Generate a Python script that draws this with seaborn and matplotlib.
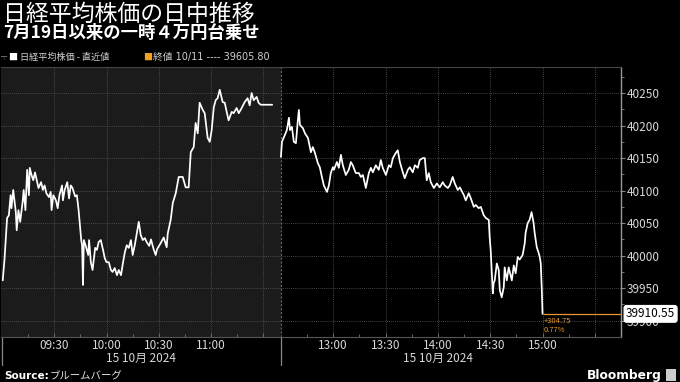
import numpy as np
import pandas as pd
import matplotlib
matplotlib.use("Agg")
import matplotlib.pyplot as plt
import seaborn as sns

# ---------------- data ----------------
# morning session: minutes since 09:00
am_minutes = [0.5, 1.5, 3.0, 4.0, 5.0, 5.5, 6.5, 8.0, 8.5, 9.5, 10.5, 12.0, 12.5, 13.5, 14.5, 15.5,
              16.0, 17.0, 18.0, 19.0, 20.0, 21.0, 22.5, 23.5, 24.5, 25.5, 27.0, 28.0, 28.5, 29.5,
              31.0, 32.0, 33.0, 34.5, 35.0, 36.0, 37.5, 38.5, 39.5, 40.5, 42.0, 43.0, 44.0, 45.5,
              46.0, 46.5, 47.0, 48.0, 49.5, 50.0, 51.0, 52.0, 53.5, 54.5, 55.5, 56.7, 58.0, 59.0,
              60.0, 61.3, 62.5, 63.5, 64.7, 66.0, 67.0, 68.3, 69.5, 70.5, 71.6, 72.8, 74.0, 75.0,
              76.2, 77.5, 78.5, 79.6, 80.8, 82.0, 83.0, 84.5, 85.5, 87.0, 88.2, 89.0, 91.0, 92.8,
              94.5, 95.1, 96.8, 98.0, 99.7, 101.4, 103.7, 105.4, 107.1, 108.3, 110.0, 111.1, 112.3,
              113.4, 115.2, 116.3, 118.0, 119.2, 120.3, 121.5, 122.6, 123.7, 124.9, 126.6, 127.8,
              128.9, 130.0, 131.8, 132.9, 134.6, 135.8, 137.5, 139.2, 140.9, 142.1, 143.2, 144.4,
              146.1, 147.2, 148.4, 150.0, 152.0, 155.0]
am_values = [39962, 39994, 40058, 40062, 40093, 40073, 40101, 40067, 40039, 40070, 40052, 40085,
             40101, 40070, 40132, 40093, 40135, 40124, 40116, 40128, 40116, 40104, 40113, 40101,
             40108, 40096, 40090, 40098, 40070, 40093, 40085, 40073, 40093, 40108, 40085, 40101,
             40113, 40088, 40108, 40104, 40091, 40093, 40070, 40024, 40016, 39955, 40024, 40016,
             40001, 40024, 39990, 39978, 40012, 40009, 40021, 40024, 40009, 39996, 39990, 39990,
             39978, 39975, 39981, 39970, 39978, 39970, 39990, 40005, 40016, 40012, 40024, 40001,
             40016, 40036, 40052, 40032, 40024, 40027, 40021, 40015, 40025, 40010, 40001, 40010,
             40019, 40028, 40013, 40034, 40055, 40081, 40096, 40121, 40121, 40105, 40105, 40159,
             40167, 40204, 40188, 40235, 40224, 40219, 40181, 40175, 40193, 40228, 40239, 40242,
             40255, 40236, 40235, 40221, 40208, 40221, 40219, 40227, 40219, 40227, 40236, 40242,
             40231, 40250, 40239, 40244, 40235, 40232, 40232, 40232, 40232]

# afternoon session: minutes since 12:30
pm_minutes = [0.0, 0.6, 1.7, 3.4, 4.6, 5.2, 6.3, 7.4, 8.6, 9.7, 10.3, 10.9, 12.6, 13.8, 15.5, 17.2,
              18.3, 19.5, 21.2, 22.3, 23.5, 24.6, 26.4, 27.5, 28.6, 29.8, 30.4, 32.1, 33.2, 34.4,
              35.5, 37.2, 38.9, 40.1, 41.2, 42.9, 44.7, 45.8, 47.0, 48.7, 50.4, 51.6, 52.7, 54.4,
              56.1, 57.3, 58.4, 60.2, 61.9, 63.0, 64.2, 65.9, 67.0, 68.2, 69.9, 71.0, 72.8, 73.9,
              75.6, 76.8, 78.5, 79.6, 81.4, 82.5, 83.6, 84.8, 85.9, 87.7, 89.4, 91.1, 92.8, 93.9,
              95.7, 96.8, 98.5, 99.7, 101.4, 102.6, 104.9, 106.0, 107.7, 108.9, 110.6, 111.7, 113.4,
              114.6, 116.3, 117.5, 119.2, 119.7, 120.3, 121.5, 122.0, 122.6, 123.8, 124.9, 125.5,
              126.6, 127.8, 128.3, 129.5, 130.6, 132.4, 133.5, 134.6, 135.8, 136.9, 138.6, 139.8,
              140.3, 141.5, 142.6, 143.7, 144.9, 145.5, 146.7, 147.8, 148.4, 149.0, 149.6, 150.0]
pm_values = [40152, 40175, 40182, 40193, 40212, 40193, 40198, 40175, 40173, 40208, 40224, 40201,
             40196, 40188, 40181, 40159, 40167, 40158, 40142, 40136, 40121, 40108, 40098, 40108,
             40127, 40136, 40132, 40144, 40135, 40155, 40139, 40124, 40132, 40144, 40139, 40127,
             40127, 40121, 40124, 40104, 40127, 40135, 40128, 40139, 40132, 40147, 40135, 40124,
             40139, 40136, 40150, 40158, 40162, 40144, 40128, 40119, 40132, 40136, 40128, 40139,
             40135, 40147, 40150, 40150, 40116, 40127, 40113, 40104, 40111, 40105, 40113, 40108,
             40104, 40108, 40121, 40111, 40101, 40105, 40093, 40085, 40096, 40088, 40075, 40078,
             40073, 40075, 40062, 40058, 40055, 40028, 40008, 39942, 39958, 39962, 39988, 39978,
             39947, 39936, 39952, 39982, 39962, 39982, 39962, 39985, 39973, 39998, 39994, 40001,
             40019, 40035, 40050, 40055, 40067, 40050, 40035, 40013, 40004, 39998, 39988, 39947,
             39910.55]

prev_close = 39605.80
last_value = 39910.55
change = 304.75
change_pct = 0.77

am_tick_labels = ["09:30", "10:00", "10:30", "11:00", ""]
am_tick_minutes = [30, 60, 90, 120, 150]
pm_tick_labels = ["13:00", "13:30", "14:00", "14:30", "15:00", ""]
pm_tick_minutes = [30, 60, 90, 120, 150, 180]
y_ticks = [39900, 39950, 40000, 40050, 40100, 40150, 40200, 40250]
date_label = "15 10月 2024"

title = "日経平均株価の日中推移"
subtitle = "7月19日以来の一時４万円台乗せ"
legend_1 = "日経平均株価 - 直近値"
legend_2 = "終値 10/11 ---- 39605.80"

# ---------------- layout ----------------
PM_OFFSET = 160  # compressed position of 12:30 on the axis
W, H = 680, 382

sns.set_theme(style="dark")
plt.rcParams['font.family'] = ['Noto Sans CJK JP', 'DejaVu Sans']

fig = plt.figure(figsize=(W / 100, H / 100), dpi=100, facecolor="black")
ax = fig.add_axes([1 / W, 1 - 337 / H, 620 / W, 270 / H])
ax.set_facecolor("black")

df = pd.concat([
    pd.DataFrame({"pos": am_minutes, "value": am_values, "session": "am"}),
    pd.DataFrame({"pos": np.array(pm_minutes) + PM_OFFSET, "value": pm_values, "session": "pm"}),
])

# morning shading
ax.axvspan(-0.5, PM_OFFSET, color="#1b1b1b", zorder=0, lw=0)

sns.lineplot(data=df, x="pos", y="value", units="session", estimator=None,
             color="white", lw=1.25, ax=ax, zorder=3)

xmin, xmax = -0.5, 355
ax.set_xlim(xmin, xmax)
ax.set_ylim(39875, 40290)

# grid
major_pos = am_tick_minutes + [m + PM_OFFSET for m in pm_tick_minutes]
ax.set_xticks(major_pos)
ax.set_xticklabels(am_tick_labels + pm_tick_labels)
minor_pos = [m - 15 for m in am_tick_minutes] + [m - 15 + PM_OFFSET for m in pm_tick_minutes]
ax.set_xticks(minor_pos, minor=True)
for p in major_pos:
    ax.axvline(p, color="#5a5a5a", lw=0.6, ls=(0, (1, 1.5)), zorder=1)
for v in y_ticks:
    ax.axhline(v, color="#5a5a5a", lw=0.6, ls=(0, (1, 1.5)), zorder=1)

# session divider
ax.axvline(PM_OFFSET, color="#666666", lw=0.8, ls=(0, (2, 1.5)), zorder=2)
for p in [xmin + 0.4, PM_OFFSET]:
    ax.plot([p, p], [0, -0.105], transform=ax.get_xaxis_transform(), color="#888888",
            lw=0.9, clip_on=False)

# y axis on the right
ax.yaxis.tick_right()
ax.set_yticks(y_ticks)
ax.set_yticklabels([str(v) for v in y_ticks])
ax.set_yticks([v + 25 for v in y_ticks[:-1]] + [40275], minor=True)
ax.tick_params(axis="y", which="major", colors="#888888", labelcolor="#d8d8d8",
               labelsize=8.5, length=3, width=0.8, pad=1, direction="out", right=True, left=False)
ax.tick_params(axis="y", which="minor", colors="#888888", length=2, width=0.6, right=True, left=False)
ax.tick_params(axis="x", which="major", colors="#777777", labelcolor="#d8d8d8",
               labelsize=8.5, length=3, width=0.7, pad=1.5, direction="in", bottom=True)
ax.tick_params(axis="x", which="minor", colors="#777777", length=2, width=0.6, direction="in",
               bottom=True)
ax.set_xlabel("")
ax.set_ylabel("")

ax.spines["left"].set_visible(False)
ax.spines["right"].set_color("#999999")
ax.spines["right"].set_linewidth(1.0)
ax.spines["bottom"].set_color("#555555")
ax.spines["bottom"].set_linewidth(0.8)
ax.spines["top"].set_color("#444444")
ax.spines["top"].set_linewidth(0.8)

# date labels
for center in [80, PM_OFFSET + 90]:
    ax.text(center, -0.078, date_label, transform=ax.get_xaxis_transform(), ha="center",
            va="center", color="#d8d8d8", fontsize=8.5)

# last value line + annotations
last_pos = pm_minutes[-1] + PM_OFFSET
ax.plot([last_pos, xmax], [last_value, last_value], color="#e8962e", lw=0.9, zorder=4,
        solid_capstyle="butt")
ax.text(last_pos + 0.5, last_value - 5, f"+{change:.2f}", color="#e8962e", fontsize=5.5,
        va="top", ha="left")
ax.text(last_pos + 0.5, last_value - 18, f"{change_pct:.2f}%", color="#e8962e", fontsize=5.5,
        va="top", ha="left")
ax.text(1.008, last_value, f"{last_value:.2f}", transform=ax.get_yaxis_transform(),
        color="black", fontsize=8.5, va="center", ha="left", zorder=6,
        bbox=dict(boxstyle="round,pad=0.15,rounding_size=0.2", fc="white", ec="white"))


def px(x, y):
    return x / W, 1 - y / H


fig.text(*px(3, 14), title, color="white", fontsize=16.5, va="center", ha="left")
fig.text(*px(3, 33), subtitle, color="white", fontsize=12.5, fontweight="bold",
         va="center", ha="left")
fig.text(*px(1, 57), "┬", color="#888888", fontsize=4.5, va="center", ha="left")
fig.text(*px(8, 57), "■", color="white", fontsize=6.5, va="center", ha="left")
fig.text(*px(20, 57), legend_1, color="#d0d0d0", fontsize=6.6, va="center", ha="left")
fig.text(*px(143, 57), "■", color="#f0a020", fontsize=6.5, va="center", ha="left")
fig.text(*px(153, 57), legend_2, color="#d0d0d0", fontsize=7.0, va="center", ha="left",
         family=["DejaVu Sans", "Noto Sans CJK JP"])

fig.text(*px(4, 376), "Source:", color="white", fontsize=7.5, fontweight="bold",
         va="center", ha="left", family="DejaVu Sans")
fig.text(*px(50, 376), "ブルームバーグ", color="#e0e0e0", fontsize=7.5, va="center", ha="left")
fig.text(*px(662, 375), "Bloomberg", color="white", fontsize=8.8, fontweight="bold",
         va="center", ha="right", family="DejaVu Sans")
fig.patches.append(plt.Rectangle(px(666, 381), 10 / W, 12 / H, transform=fig.transFigure,
                                 fc="#cccccc", ec="none"))

fig.savefig("out.png", dpi=100, facecolor="black")
